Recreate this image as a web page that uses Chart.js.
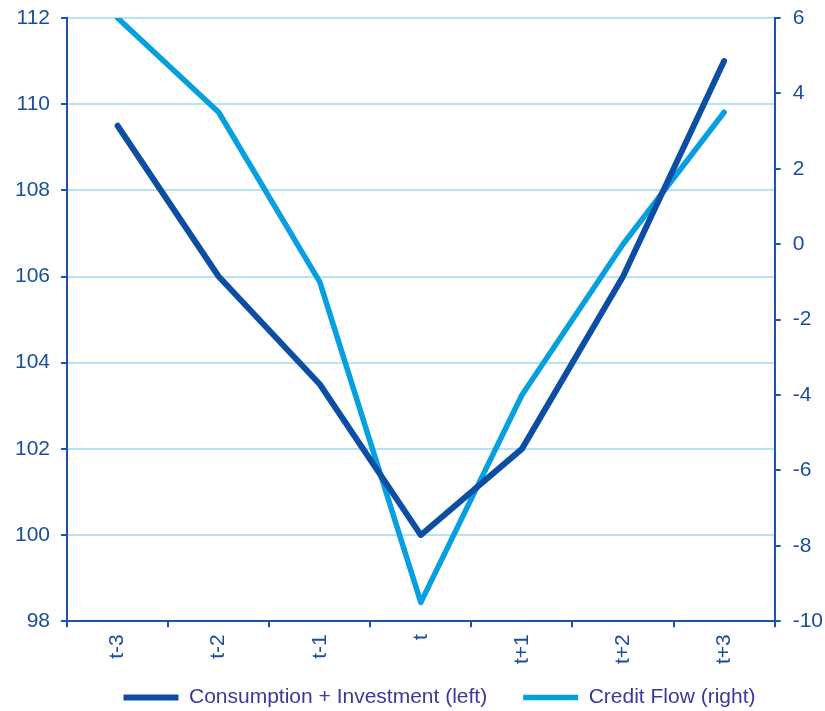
<!DOCTYPE html>
<html>
<head>
<meta charset="utf-8">
<script src="https://cdn.jsdelivr.net/npm/chart.js@4/dist/chart.umd.min.js"></script>
<style>
  html, body { margin: 0; padding: 0; background: #fff; }
  #wrap { width: 825px; height: 711px; position: relative; }
</style>
</head>
<body>
<div id="wrap"><canvas id="chart"></canvas></div>
<script>
const periods = ["t-3", "t-2", "t-1", "t", "t+1", "t+2", "t+3"];
const consumptionInvestment = [109.5, 106, 103.5, 100, 102, 106, 111];
const creditFlow = [6, 3.5, -1, -9.5, -4, 0, 3.5];

const axisBlue = '#1a55a8';
const tickText = '#1a4e9c';
const gridBlue = '#b7e2f6';
const fontFamily = 'Liberation Sans, Arial, sans-serif';

// the original legend sits a bit right of centre and hugs the bottom edge
const legendShift = {
    id: 'legendShift',
    afterLayout(chart) {
        const lg = chart.legend;
        lg.left += 20;
        lg.right += 20;
        lg.top -= 20;
    }
};

// let the top tick label hang over the edge instead of pushing the plot down
function noTopPad(scale) {
    scale.paddingTop = 0;
}

const ctx = document.getElementById('chart').getContext('2d');
new Chart(ctx, {
    type: 'line',
    data: {
        labels: periods,
        datasets: [{
            label: 'Consumption + Investment (left)',
            data: consumptionInvestment,
            borderColor: '#0c4ea3',
            backgroundColor: '#0c4ea3',
            borderWidth: 6,
            borderCapStyle: 'round',
            borderJoinStyle: 'round',
            pointRadius: 0,
            tension: 0,
            yAxisID: 'y'
        }, {
            label: 'Credit Flow (right)',
            data: creditFlow,
            borderColor: '#06a0e0',
            backgroundColor: '#06a0e0',
            borderWidth: 5.5,
            borderCapStyle: 'round',
            borderJoinStyle: 'round',
            pointRadius: 0,
            tension: 0,
            yAxisID: 'y1'
        }]
    },
    options: {
        responsive: true,
        maintainAspectRatio: false,
        animation: false,
        layout: { padding: { left: 4, right: -10, top: 18, bottom: 0 } },
        plugins: {
            tooltip: { enabled: false },
            legend: {
                position: 'bottom',
                maxHeight: 40,
                labels: {
                    usePointStyle: true,
                    pointStyle: 'line',
                    pointStyleWidth: 55,
                    color: '#3a3a9a',
                    font: { family: fontFamily, size: 21 },
                    padding: 36
                }
            }
        },
        scales: {
            x: {
                offset: true,
                grid: {
                    offset: true,
                    drawOnChartArea: false,
                    drawTicks: true,
                    tickLength: 6,
                    tickColor: axisBlue,
                    lineWidth: 2
                },
                border: { color: axisBlue, width: 2 },
                ticks: {
                    color: tickText,
                    minRotation: 90,
                    maxRotation: 90,
                    padding: 7,
                    font: { family: fontFamily, size: 21 }
                }
            },
            y: {
                position: 'left',
                min: 98,
                max: 112,
                afterFit: noTopPad,
                grid: {
                    color: gridBlue,
                    lineWidth: 2,
                    tickLength: 6,
                    tickColor: axisBlue
                },
                border: { color: axisBlue, width: 2 },
                ticks: {
                    stepSize: 2,
                    color: tickText,
                    padding: 11,
                    font: { family: fontFamily, size: 21 }
                }
            },
            y1: {
                position: 'right',
                min: -10,
                max: 6,
                afterFit: noTopPad,
                grid: {
                    drawOnChartArea: false,
                    lineWidth: 2,
                    tickLength: 6,
                    tickColor: axisBlue
                },
                border: { color: axisBlue, width: 2 },
                ticks: {
                    stepSize: 2,
                    color: tickText,
                    padding: 12,
                    font: { family: fontFamily, size: 21 }
                }
            }
        }
    },
    plugins: [legendShift]
});
</script>
</body>
</html>
